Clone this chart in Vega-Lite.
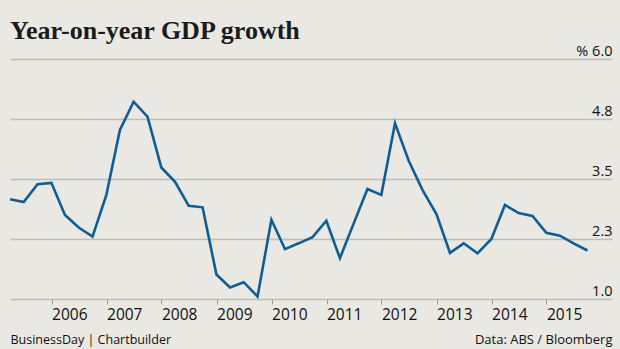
{
  "$schema": "https://vega.github.io/schema/vega-lite/v6.json",
  "width": 602,
  "height": 240,
  "autosize": {"type": "none"},
  "padding": {"top": 59, "left": 10, "right": 8, "bottom": 50},
  "background": "#E9E8E2",
  "config": {"view": {"stroke": null}},
  "title": {
    "text": "Year-on-year GDP growth",
    "anchor": "start",
    "frame": "group",
    "baseline": "alphabetic",
    "offset": 21,
    "dy": 43,
    "font": "Liberation Serif",
    "fontSize": 26,
    "fontWeight": "bold",
    "color": "#1b1b1b"
  },
  "data": {
    "values": [
      {"quarter": "2005-03-31", "growth": 3.08},
      {"quarter": "2005-06-30", "growth": 3.02},
      {"quarter": "2005-09-30", "growth": 3.39},
      {"quarter": "2005-12-31", "growth": 3.42},
      {"quarter": "2006-03-31", "growth": 2.75},
      {"quarter": "2006-06-30", "growth": 2.49},
      {"quarter": "2006-09-30", "growth": 2.30},
      {"quarter": "2006-12-31", "growth": 3.17},
      {"quarter": "2007-03-31", "growth": 4.52},
      {"quarter": "2007-06-30", "growth": 5.11},
      {"quarter": "2007-09-30", "growth": 4.80},
      {"quarter": "2007-12-31", "growth": 3.74},
      {"quarter": "2008-03-31", "growth": 3.44},
      {"quarter": "2008-06-30", "growth": 2.94},
      {"quarter": "2008-09-30", "growth": 2.91},
      {"quarter": "2008-12-31", "growth": 1.51},
      {"quarter": "2009-03-31", "growth": 1.24},
      {"quarter": "2009-06-30", "growth": 1.35},
      {"quarter": "2009-09-30", "growth": 1.05},
      {"quarter": "2009-12-31", "growth": 2.65},
      {"quarter": "2010-03-31", "growth": 2.04},
      {"quarter": "2010-06-30", "growth": 2.16},
      {"quarter": "2010-09-30", "growth": 2.29},
      {"quarter": "2010-12-31", "growth": 2.63},
      {"quarter": "2011-03-31", "growth": 1.85},
      {"quarter": "2011-06-30", "growth": 2.57},
      {"quarter": "2011-09-30", "growth": 3.29},
      {"quarter": "2011-12-31", "growth": 3.17},
      {"quarter": "2012-03-31", "growth": 4.66},
      {"quarter": "2012-06-30", "growth": 3.88},
      {"quarter": "2012-09-30", "growth": 3.27},
      {"quarter": "2012-12-31", "growth": 2.77},
      {"quarter": "2013-03-31", "growth": 1.96},
      {"quarter": "2013-06-30", "growth": 2.16},
      {"quarter": "2013-09-30", "growth": 1.95},
      {"quarter": "2013-12-31", "growth": 2.25},
      {"quarter": "2014-03-31", "growth": 2.96},
      {"quarter": "2014-06-30", "growth": 2.79},
      {"quarter": "2014-09-30", "growth": 2.73},
      {"quarter": "2014-12-31", "growth": 2.38},
      {"quarter": "2015-03-31", "growth": 2.32},
      {"quarter": "2015-06-30", "growth": 2.16},
      {"quarter": "2015-09-30", "growth": 2.01}
    ]
  },
  "mark": {"type": "line", "color": "#0D5E98", "strokeWidth": 2.6, "strokeJoin": "miter", "clip": false},
  "encoding": {
    "x": {
      "field": "quarter",
      "type": "temporal",
      "scale": {
        "type": "utc",
        "domain": [
          {"year": 2005, "month": 3, "date": 31, "utc": true},
          {"year": 2016, "month": 3, "date": 11, "utc": true}
        ]
      },
      "axis": {
        "values": [
          {"year": 2006, "month": 1, "date": 1, "utc": true},
          {"year": 2007, "month": 1, "date": 1, "utc": true},
          {"year": 2008, "month": 1, "date": 1, "utc": true},
          {"year": 2009, "month": 1, "date": 1, "utc": true},
          {"year": 2010, "month": 1, "date": 1, "utc": true},
          {"year": 2011, "month": 1, "date": 1, "utc": true},
          {"year": 2012, "month": 1, "date": 1, "utc": true},
          {"year": 2013, "month": 1, "date": 1, "utc": true},
          {"year": 2014, "month": 1, "date": 1, "utc": true},
          {"year": 2015, "month": 1, "date": 1, "utc": true}
        ],
        "format": "%Y",
        "grid": false,
        "domain": false,
        "ticks": true,
        "tickSize": 5,
        "tickColor": "#9A9A96",
        "tickWidth": 1,
        "labelAlign": "left",
        "labelBaseline": "top",
        "labelPadding": 3,
        "labelFont": "Open Sans",
        "labelFontSize": 15.5,
        "labelColor": "#111111",
        "labelFlush": false,
        "labelOverlap": false,
        "labelBound": false,
        "title": "BusinessDay | Chartbuilder",
        "titleFont": "Open Sans",
        "titleFontSize": 12.5,
        "titleFontWeight": "normal",
        "titleColor": "#111111",
        "titleAnchor": "start",
        "titleAlign": "left",
        "titleBaseline": "alphabetic",
        "titleX": 0,
        "titleY": 44
      }
    },
    "y": {
      "field": "growth",
      "type": "quantitative",
      "scale": {"domain": [1, 6], "zero": false, "nice": false},
      "axis": {
        "orient": "right",
        "values": [1, 2.25, 3.5, 4.75, 6],
        "labelExpr": "datum.value == 6 ? '% 6.0' : format(datum.value, '.1f')",
        "grid": true,
        "gridColor": "#BEBEB9",
        "gridWidth": 1.5,
        "domain": false,
        "ticks": false,
        "tickSize": 0,
        "labelPadding": 0,
        "labelAlign": "right",
        "labelBaseline": "alphabetic",
        "labelOffset": -4,
        "labelFont": "Open Sans",
        "labelFontSize": 14.5,
        "labelColor": "#111111",
        "labelFlush": false,
        "labelOverlap": false,
        "labelBound": false,
        "title": "Data: ABS / Bloomberg",
        "titleAngle": 0,
        "titleFont": "Open Sans",
        "titleFontSize": 13,
        "titleFontWeight": "normal",
        "titleColor": "#111111",
        "titleAnchor": null,
        "titleAlign": "right",
        "titleBaseline": "alphabetic",
        "titleX": 0,
        "titleY": 284
      }
    }
  }
}
